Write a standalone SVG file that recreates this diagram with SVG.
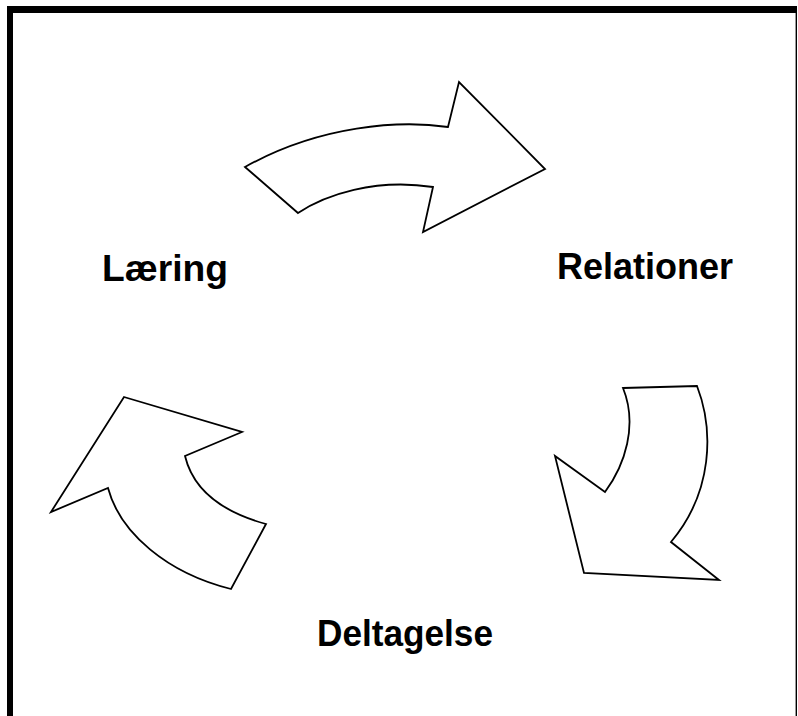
<svg xmlns="http://www.w3.org/2000/svg" width="798" height="716" viewBox="0 0 798 716">
<style>
.arrow{fill:#fff;stroke:#000;stroke-width:1.8;stroke-linejoin:miter}
.lbl{font-family:"Liberation Sans",Arial,sans-serif;font-weight:bold;font-size:36px;fill:#000}
</style>
<rect x="0" y="0" width="798" height="716" fill="#fff"/>
<g id="frame">
<rect x="7" y="6" width="790" height="7" fill="#000"/>
<rect x="7" y="6" width="6" height="710" fill="#000"/>
<line x1="796.3" y1="10" x2="796.3" y2="716" stroke="#000" stroke-width="1.4"/>
</g>
<g id="connectors">
<path id="arrow-top" class="arrow" stroke-width="2.2" d="M245,167 L298,213 C 325,195 375,178 433,187 L423,232 L545,169 L459,82 L448,127 C 400,120 320,125 245,167 Z"/>
<path id="arrow-right" class="arrow" d="M623,388 L697,386 C 714,430 713,492 671,542 L719,580 L584,573 L555,456 L605,492 C 625,465 638,425 623,388 Z"/>
<path id="arrow-left" class="arrow" d="M124,397 L242,432 L185,456 C 192,485 215,510 266,524 L231,589 C 167,573 120,533 108,488 L51,512 Z"/>
</g>
<g id="node-laering"><text class="lbl" x="102" y="281" textLength="126" lengthAdjust="spacingAndGlyphs">Læring</text></g>
<g id="node-relationer"><text class="lbl" x="557" y="279" textLength="176" lengthAdjust="spacingAndGlyphs">Relationer</text></g>
<g id="node-deltagelse"><text class="lbl" x="317" y="646" textLength="176" lengthAdjust="spacingAndGlyphs">Deltagelse</text></g>
</svg>
